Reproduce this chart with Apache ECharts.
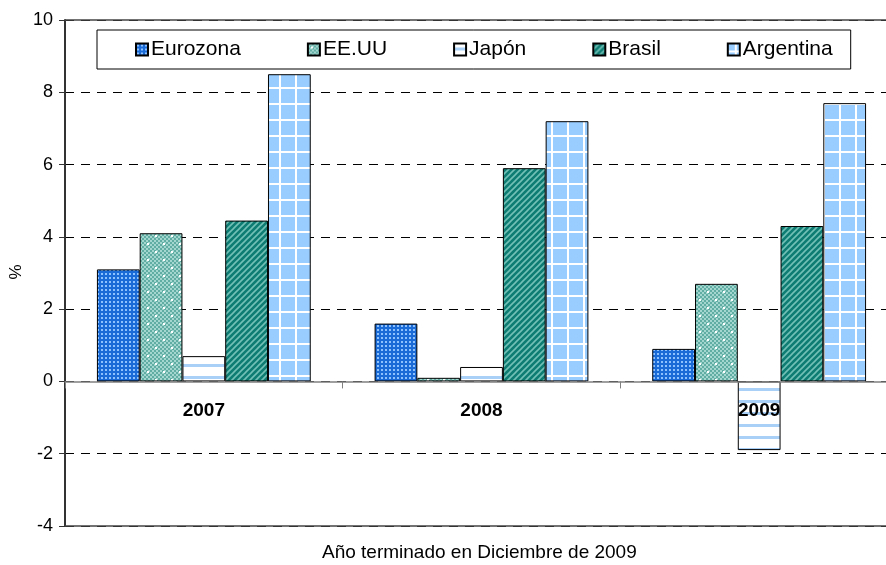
<!DOCTYPE html>
<html>
<head>
<meta charset="utf-8">
<script src="https://cdn.jsdelivr.net/npm/echarts@6/dist/echarts.min.js"></script>
<style>
  html, body { margin: 0; padding: 0; background: #fff; }
  #chart { width: 886px; height: 565px; }
</style>
</head>
<body>
<div id="chart"></div>
<script>
// datos
var years = ['2007', '2008', '2009'];
var seriesNames = ['Eurozona', 'EE.UU', 'Japón', 'Brasil', 'Argentina'];
var eurozona = [3.1, 1.6, 0.9];
var eeuu = [4.1, 0.1, 2.7];
var japon = [0.7, 0.4, -1.9];
var brasil = [4.45, 5.9, 4.3];
var argentina = [8.5, 7.2, 7.7];
var yTicks = [-4, -2, 0, 2, 4, 6, 8, 10];

// tramas (patterns) para imitar el estilo de Excel
function makeTile(w, h, draw) {
    var c = document.createElement('canvas');
    c.width = w; c.height = h;
    draw(c.getContext('2d'), w, h);
    return { image: c, repeat: 'repeat' };
}

var patEuro = makeTile(4, 4, function (ctx) {
    ctx.fillStyle = '#1a6ad8';
    ctx.fillRect(0, 0, 4, 4);
    ctx.fillStyle = '#8ec2ff';
    ctx.fillRect(1, 1, 2, 2);
});

var patUS = makeTile(16, 16, function (ctx) {
    var x, y;
    for (x = 0; x < 16; x += 2) {
        for (y = 0; y < 16; y += 2) {
            ctx.fillStyle = ((x + y) / 2) % 2 ? '#a3d6cf' : '#5fada3';
            ctx.fillRect(x, y, 2, 2);
        }
    }
    ctx.fillStyle = '#ffffff';
    ctx.fillRect(3, 3, 2, 2);
    ctx.fillRect(11, 11, 2, 2);
});

var patJapon = makeTile(8, 12, function (ctx) {
    ctx.fillStyle = '#ffffff';
    ctx.fillRect(0, 0, 8, 12);
    ctx.fillStyle = '#a9d1f7';
    ctx.fillRect(0, 4, 8, 3);
});

var patBrasil = makeTile(6, 6, function (ctx) {
    ctx.fillStyle = '#0e7c72';
    ctx.fillRect(0, 0, 6, 6);
    ctx.strokeStyle = '#72c0b6';
    ctx.lineWidth = 1.6;
    ctx.beginPath();
    ctx.moveTo(-1, 7); ctx.lineTo(7, -1);
    ctx.moveTo(-1, 1); ctx.lineTo(1, -1);
    ctx.moveTo(5, 7); ctx.lineTo(7, 5);
    ctx.stroke();
});

var patArg = makeTile(16, 16, function (ctx) {
    ctx.fillStyle = '#99ccff';
    ctx.fillRect(0, 0, 16, 16);
    ctx.fillStyle = '#ffffff';
    ctx.fillRect(0, 7, 16, 2);
    ctx.fillRect(7, 0, 2, 16);
});

var values = [eurozona, eeuu, japon, brasil, argentina];
var patterns = [patEuro, patUS, patJapon, patBrasil, patArg];

var myChart = echarts.init(document.getElementById('chart'));

var series = [];
for (var i = 0; i < seriesNames.length; i++) {
    series.push({
        name: seriesNames[i],
        type: 'bar',
        data: values[i],
        barGap: '0%',
        barCategoryGap: '23%',
        itemStyle: {
            color: patterns[i],
            borderColor: '#000',
            borderWidth: 1
        }
    });
}
// lineas solidas arriba (10) y abajo (-4)
series[0].markLine = {
    silent: true,
    symbol: 'none',
    label: { show: false },
    lineStyle: { type: 'solid', color: '#444', width: 1.5 },
    data: [{ yAxis: yTicks[yTicks.length - 1] }, { yAxis: yTicks[0] }]
};

// el area de trazado sigue mas alla del borde derecho (recortada en el original)
var gridTop = 20, gridBottom = 39, plotH = 565 - gridTop - gridBottom;
var zeroOffset = plotH * (0 - yTicks[0]) / (yTicks[yTicks.length - 1] - yTicks[0]);

option = {
    animation: false,
    backgroundColor: '#fff',
    textStyle: { fontFamily: 'Liberation Sans, Arial, sans-serif' },
    grid: { left: 65, right: -12, top: gridTop, bottom: gridBottom, outerBoundsMode: 'none', containLabel: false },
    legend: {
        data: seriesNames,
        left: 97,
        top: 30,
        padding: [9, 18, 9, 38],
        itemGap: 66,
        itemWidth: 12,
        itemHeight: 12,
        icon: 'rect',
        borderColor: '#000',
        borderWidth: 1,
        selectedMode: false,
        textStyle: { fontSize: 21, color: '#000', padding: [0, 0, 0, -2] }
    },
    xAxis: {
        type: 'category',
        data: years,
        offset: -zeroOffset,
        axisLine: { onZero: false, lineStyle: { color: '#808080', width: 1.5 } },
        axisTick: { show: true, length: 7, lineStyle: { color: '#808080' } },
        axisLabel: { fontSize: 19, fontWeight: 'bold', color: '#000', margin: 20 },
        z: 5
    },
    yAxis: {
        type: 'value',
        min: yTicks[0],
        max: yTicks[yTicks.length - 1],
        interval: 2,
        axisLine: { show: true, lineStyle: { color: '#333', width: 2 } },
        axisTick: { show: true, length: 6, lineStyle: { color: '#333' } },
        axisLabel: { fontSize: 18, color: '#000', margin: 12 },
        splitLine: { lineStyle: { color: '#000', type: [9, 7], width: 1 } }
    },
    graphic: [{
        type: 'text',
        left: 322,
        top: 543,
        style: {
            text: 'Año terminado en Diciembre de 2009',
            font: '19px Liberation Sans, Arial, sans-serif',
            fill: '#000'
        }
    }, {
        type: 'text',
        x: 16,
        y: 272,
        rotation: Math.PI / 2,
        style: {
            text: '%',
            font: '17px Liberation Sans, Arial, sans-serif',
            fill: '#000',
            align: 'center',
            verticalAlign: 'middle'
        }
    }],
    series: series
};

myChart.setOption(option);
</script>
</body>
</html>
